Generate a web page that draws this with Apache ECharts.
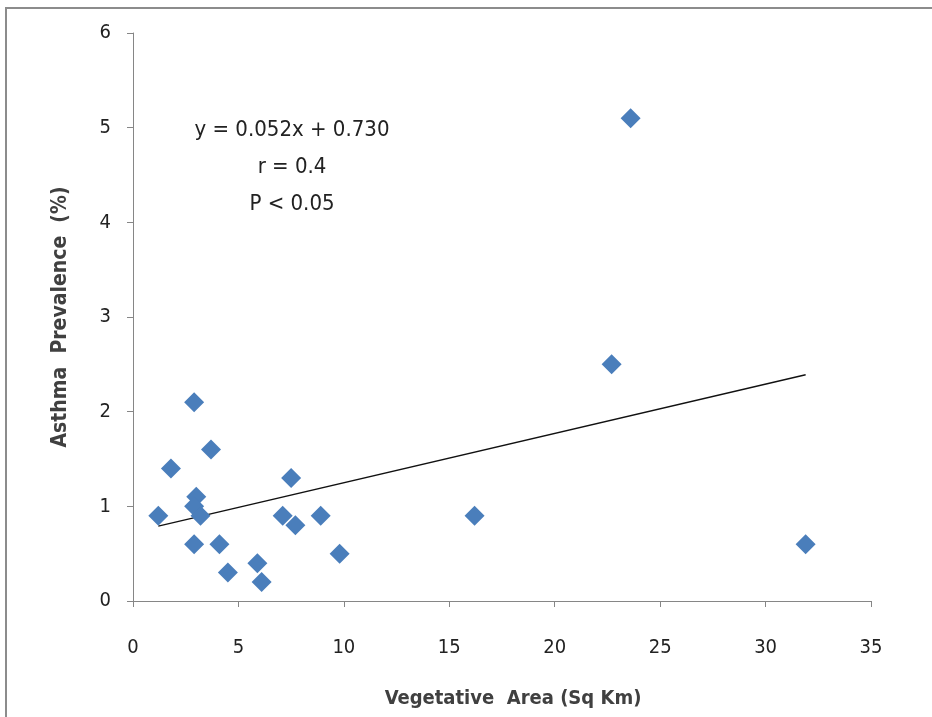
<!DOCTYPE html>
<html>
<head>
<meta charset="utf-8">
<script src="https://cdn.jsdelivr.net/npm/echarts@6/dist/echarts.min.js"></script>
<style>
  html, body { margin: 0; padding: 0; background: #fff; }
  #frame { position: absolute; left: 5px; top: 7px; width: 927px; height: 710px;
           border-top: 2px solid #8c8c8c; border-left: 2px solid #8c8c8c; }
  #chart { position: absolute; left: 0; top: 0; width: 932px; height: 717px; }
</style>
</head>
<body>
<div id="frame"></div>
<div id="chart"></div>
<script>
	// 数据
	var vegArea = [1.2, 1.8, 2.9, 3.7, 3.0, 2.9, 3.2, 2.9, 4.1, 4.5, 5.9, 6.1, 7.5, 7.1, 7.7, 8.9, 9.8, 16.2, 22.7, 23.6, 31.9];
	var prevalence = [0.9, 1.4, 2.1, 1.6, 1.1, 1.0, 0.9, 0.6, 0.6, 0.3, 0.4, 0.2, 1.3, 0.9, 0.8, 0.9, 0.5, 0.9, 2.5, 5.1, 0.6];
	var trendX = [1.2, 31.9];
	var trendY = [0.79, 2.39];
	var statsText = ['y = 0.052x + 0.730', 'r = 0.4', 'P < 0.05'];

	var font = "'DejaVu Sans Condensed', 'Liberation Sans Narrow', sans-serif";

	var points = vegArea.map(function(x, i){ return [x, prevalence[i]]; });
	var trend = trendX.map(function(x, i){ return [x, trendY[i]]; });

	var myChart = echarts.init(document.getElementById('chart'));

	var option = {
		backgroundColor: 'transparent',
		animation: false,
		grid: {
			left: 133,
			right: 61,
			top: 33,
			bottom: 116
		},
		xAxis: {
			type: 'value',
			min: 0,
			max: 35,
			interval: 5,
			name: 'Vegetative  Area (Sq Km)',
			nameLocation: 'middle',
			nameGap: 88,
			nameTextStyle: { fontFamily: font, fontSize: 20, fontWeight: 'bold', color: '#404040', padding: [0, 0, 0, 22] },
			axisLine: { lineStyle: { color: '#868686', width: 1 } },
			axisTick: { show: true, length: 6, lineStyle: { color: '#868686' } },
			axisLabel: { fontFamily: font, fontSize: 20, color: '#222', margin: 37 },
			splitLine: { show: false }
		},
		yAxis: {
			type: 'value',
			min: 0,
			max: 6,
			interval: 1,
			name: 'Asthma  Prevalence  (%)',
			nameLocation: 'middle',
			nameGap: 62,
			nameRotate: 90,
			nameTextStyle: { fontFamily: font, fontSize: 21, fontWeight: 'bold', color: '#404040' },
			axisLine: { show: true, lineStyle: { color: '#868686', width: 1 } },
			axisTick: { show: true, length: 6, lineStyle: { color: '#868686' } },
			axisLabel: { fontFamily: font, fontSize: 20, color: '#222', margin: 22 },
			splitLine: { show: false }
		},
		graphic: statsText.map(function(t, i){
			return {
				type: 'text',
				x: 292,
				y: 130 + i * 37,
				style: {
					text: t,
					align: 'center',
					verticalAlign: 'middle',
					font: '22px ' + font,
					fill: '#222'
				}
			};
		}),
		series: [{
			name: 'points',
			type: 'scatter',
			symbol: 'diamond',
			symbolSize: 20,
			itemStyle: { color: '#4a7ebb', opacity: 1 },
			data: points,
			z: 3
		}, {
			name: 'trend',
			type: 'line',
			data: trend,
			symbol: 'none',
			lineStyle: { color: '#111', width: 1.3 },
			z: 2
		}]
	};

	myChart.setOption(option);
</script>
</body>
</html>
